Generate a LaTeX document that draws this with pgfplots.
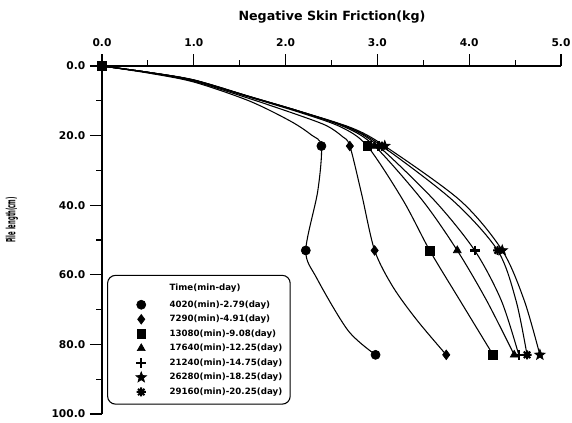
\documentclass[border=0pt]{standalone}
\usepackage{fontspec}
\setmainfont{DejaVu Sans}
\usepackage{graphicx}
\usepackage{pgfplots}
\pgfplotsset{compat=1.18}
\usepackage{pgfplotstable}
\usetikzlibrary{plotmarks}

% filled five-pointed star
\pgfdeclareplotmark{fivestar}{%
  \pgfpathmoveto{\pgfpointpolar{90}{1.3\pgfplotmarksize}}%
  \pgfpathlineto{\pgfpointpolar{126}{0.55\pgfplotmarksize}}%
  \pgfpathlineto{\pgfpointpolar{162}{1.3\pgfplotmarksize}}%
  \pgfpathlineto{\pgfpointpolar{198}{0.55\pgfplotmarksize}}%
  \pgfpathlineto{\pgfpointpolar{234}{1.3\pgfplotmarksize}}%
  \pgfpathlineto{\pgfpointpolar{270}{0.55\pgfplotmarksize}}%
  \pgfpathlineto{\pgfpointpolar{306}{1.3\pgfplotmarksize}}%
  \pgfpathlineto{\pgfpointpolar{342}{0.55\pgfplotmarksize}}%
  \pgfpathlineto{\pgfpointpolar{18}{1.3\pgfplotmarksize}}%
  \pgfpathlineto{\pgfpointpolar{54}{0.55\pgfplotmarksize}}%
  \pgfpathclose\pgfusepathqfillstroke}
% heavy eight-armed asterisk
\pgfdeclareplotmark{boldast}{%
  \pgfsetlinewidth{1.5pt}%
  \pgfpathmoveto{\pgfpointpolar{0}{\pgfplotmarksize}}\pgfpathlineto{\pgfpointpolar{180}{\pgfplotmarksize}}%
  \pgfpathmoveto{\pgfpointpolar{45}{\pgfplotmarksize}}\pgfpathlineto{\pgfpointpolar{225}{\pgfplotmarksize}}%
  \pgfpathmoveto{\pgfpointpolar{90}{\pgfplotmarksize}}\pgfpathlineto{\pgfpointpolar{270}{\pgfplotmarksize}}%
  \pgfpathmoveto{\pgfpointpolar{135}{\pgfplotmarksize}}\pgfpathlineto{\pgfpointpolar{315}{\pgfplotmarksize}}%
  \pgfusepathqstroke}

% friction (kg) against depth along the pile (cm); curves traced through the measured points
\pgfplotstableread{
x y
0 0
0.5 2.0
1.0 4.6
1.6 10.0
2.05 15.8
2.28 19.8
2.39 23
2.35 36
2.22 53
2.34 61
2.68 76
2.98 83
}\curveA
\pgfplotstableread{
x y
0 0
0.5 1.9
1.0 4.4
1.6 9.3
2.15 14.2
2.45 17.2
2.62 20.3
2.70 23
2.83 37
2.97 53
3.17 63.5
3.43 73
3.75 83
}\curveB
\pgfplotstableread{
x y
0 0
0.5 1.8
1.0 4.2
1.6 8.9
2.15 13.3
2.6 17.5
2.89 23
3.28 38.6
3.57 53
3.90 67.4
4.26 83
}\curveC
\pgfplotstableread{
x y
0 0
0.5 1.8
1.0 4.1
1.6 8.8
2.15 13.1
2.65 17.6
2.97 23
3.49 38.6
3.87 53
4.19 67.4
4.49 83
}\curveD
\pgfplotstableread{
x y
0 0
0.5 1.8
1.0 4.1
1.6 8.8
2.15 13.0
2.68 17.7
3.01 23
3.62 38.6
4.06 53
4.35 67.4
4.54 83
}\curveE
\pgfplotstableread{
x y
0 0
0.5 1.8
1.0 4.0
1.6 8.7
2.15 13.0
2.72 17.8
3.08 23
3.90 38.6
4.36 53
4.60 67.4
4.77 83
}\curveF
\pgfplotstableread{
x y
0 0
0.5 1.8
1.0 4.0
1.6 8.7
2.15 13.0
2.7 17.8
3.05 23
3.82 38.6
4.31 53
4.51 67.4
4.63 83
}\curveG

\begin{document}
\begin{tikzpicture}[x=0.75pt,y=0.75pt]
\path[use as bounding box] (0,0) rectangle (572,422);
\begin{axis}[
  at={(76.5pt,6pt)}, anchor=south west,
  scale only axis, width=344.25pt, height=261pt,
  xmin=0, xmax=5, ymin=0, ymax=100, y dir=reverse,
  axis x line=top, axis y line=left, axis line style={-, line width=0.8pt},
  xtick={0,1,2,3,4,5}, minor xtick={0.5,1.5,2.5,3.5,4.5},
  ytick={0,20,40,60,80,100}, minor ytick={10,30,50,70,90},
  tick align=outside, major tick length=9pt, minor tick length=4.5pt,
  every tick/.style={black, line width=0.8pt},
  ticklabel style={font=\bfseries\fontsize{8}{9}\selectfont},
  xticklabel style={yshift=2pt},
  /pgf/number format/.cd, fixed, fixed zerofill, precision=1, assume math mode=true,
  /pgfplots/.cd,
  clip=false,
  curve/.style={black, line width=0.8pt, smooth, no markers, forget plot},
  pts/.style={only marks, black, fill=black, line width=0.5pt, mark size=3.2pt},
  legend cell align=left,
  legend image code/.code={%
    \path (-20pt,-3pt) (20pt,3pt);
    \draw[sharp corners,overlay,#1] plot coordinates {(0pt,0pt)};},
  legend style={at={(axis description cs:0.011,0.40)}, anchor=north west,
    draw=black, line width=0.8pt, rounded corners=6pt,
    font=\bfseries\fontsize{6.5}{7}\selectfont,
    inner xsep=5pt, inner ysep=5pt, row sep=2.6pt, column sep=0pt,
    nodes={inner sep=1pt, text height=5pt, text depth=1.3pt}},
]
\addplot[curve] table {\curveA};
\addplot[curve] table {\curveB};
\addplot[curve] table {\curveC};
\addplot[curve] table {\curveD};
\addplot[curve] table {\curveE};
\addplot[curve] table {\curveF};
\addplot[curve] table {\curveG};

\addlegendimage{empty legend}
\addlegendentry[text depth=3.3pt]{Time(min-day)}
\addplot[pts, mark=*, mark size=3.4pt] coordinates {(2.39,23) (2.22,53) (2.98,83)};
\addlegendentry{4020(min)-2.79(day)}
\addplot[pts, mark=diamond*, mark size=3.6pt] coordinates {(2.70,23) (2.97,53) (3.75,83)};
\addlegendentry{7290(min)-4.91(day)}
\addplot[pts, mark=square*, mark size=3.3pt] coordinates {(0,0) (2.89,23) (3.57,53) (4.26,83)};
\addlegendentry{13080(min)-9.08(day)}
\addplot[pts, mark=triangle*, mark size=3.4pt] coordinates {(2.97,23) (3.87,53) (4.49,83)};
\addlegendentry{17640(min)-12.25(day)}
\addplot[pts, mark=+, mark size=3.6pt, mark options={line width=1.8pt}] coordinates {(3.01,23) (4.06,53) (4.54,83)};
\addlegendentry{21240(min)-14.75(day)}
\addplot[pts, mark=fivestar, mark size=3.2pt] coordinates {(3.08,23) (4.36,53) (4.77,83)};
\addlegendentry{26280(min)-18.25(day)}
\addplot[pts, mark=boldast, mark size=3.4pt] coordinates {(3.05,23) (4.31,53) (4.63,83)};
\addlegendentry{29160(min)-20.25(day)}
\end{axis}
\node[font=\bfseries\fontsize{9.5}{11}\selectfont] at (249pt,303.4pt) {Negative Skin Friction(kg)};
\node[font=\bfseries\fontsize{9.5}{11}\selectfont, rotate=90, inner sep=0pt] at (9pt,151.5pt) {\scalebox{0.42}[1]{Pile length(cm)}};
\end{tikzpicture}
\end{document}
